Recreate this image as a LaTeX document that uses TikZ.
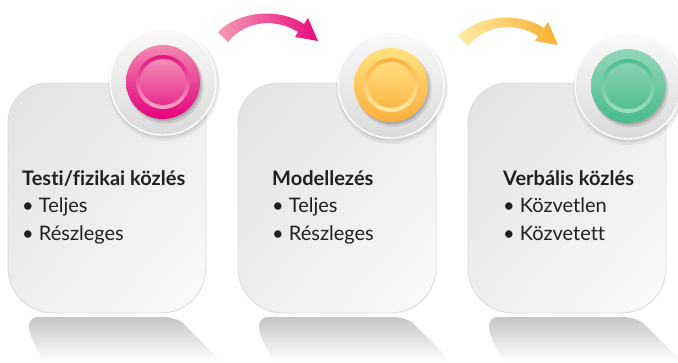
\documentclass[tikz,border=0pt]{standalone}
\usepackage{fontspec}
\setmainfont{Lato}[Ligatures={NoCommon}]
\usetikzlibrary{shadings}
\definecolor{txt}{HTML}{231F20}
\definecolor{boxA}{HTML}{E2E2E2}
\definecolor{boxM}{HTML}{EEEEEE}
\definecolor{boxB}{HTML}{FBFBFB}
\definecolor{boxE}{HTML}{DCDCDC}
\definecolor{plateA}{HTML}{FAFAFA}
\definecolor{plateB}{HTML}{DADADA}
\definecolor{reflA}{HTML}{C6C6C6}
\definecolor{reflM}{HTML}{EEEEEE}
% pink
\definecolor{pinkA}{HTML}{F287B0}
\definecolor{pinkB}{HTML}{E5007E}
\definecolor{pinkC}{HTML}{E3137F}
\definecolor{pinkD}{HTML}{F7A6C6}
\definecolor{pinkE}{HTML}{F38DB6}
\definecolor{pinkF}{HTML}{E92C8C}
% gold
\definecolor{goldA}{HTML}{FFE27F}
\definecolor{goldB}{HTML}{FBAF3C}
\definecolor{goldC}{HTML}{FBB040}
\definecolor{goldD}{HTML}{FFEBA6}
\definecolor{goldE}{HTML}{FFDD7C}
\definecolor{goldF}{HTML}{FDB848}
% green
\definecolor{grnA}{HTML}{93D6B9}
\definecolor{grnB}{HTML}{48BB8C}
\definecolor{grnC}{HTML}{4DBD8F}
\definecolor{grnD}{HTML}{A2DDC3}
\definecolor{grnE}{HTML}{88D1B2}
\definecolor{grnF}{HTML}{52BF92}
% arrows
\definecolor{arrAtail}{HTML}{F49AB2}
\definecolor{arrAhead}{HTML}{EA0A80}
\definecolor{arrBtail}{HTML}{FEEBA3}
\definecolor{arrBhead}{HTML}{F9AE32}

\newcommand\cardshape[1]{% #1 = x shift
 \begin{scope}[xshift=#1]
  \shade[top color=reflA, middle color=reflM, bottom color=white]
    (38,317) -- (165,317) .. controls (175,318) and (182,321) .. (186,326)
    -- (222,362) -- (44,362) .. controls (36,348) and (28,333) .. (29,325)
    .. controls (30,320) and (33,317) .. (38,317) -- cycle;
  \shade[upper left=boxA, upper right=boxM, lower left=boxM, lower right=boxB, draw=boxE, line width=0.9pt]
    (8,123) arc[start angle=180, end angle=270, radius=40] -- (206,83) -- (206,268)
    arc[start angle=0, end angle=90, radius=45] -- (53,313)
    arc[start angle=90, end angle=180, radius=45] -- cycle;
 \end{scope}}

\newcommand\carddisc[3]{% #1 cx, #2 cy, #3 colour prefix
  \fill[black,opacity=.05] (#1+1,#2+3) circle[radius=56];
  \fill[black,opacity=.06] (#1+1,#2+2) circle[radius=54.5];
  \shade[top color=plateA, bottom color=plateB] (#1,#2) circle[radius=53];
  \draw[white, line width=1.3pt] (#1,#2) circle[radius=53];
  \fill[black,opacity=.10] (#1+2.5,#2+3.5) circle[radius=38];
  \fill[black,opacity=.14] (#1+1.5,#2+2) circle[radius=37];
  \shade[top color=#3A, bottom color=#3B] (#1,#2) circle[radius=37];
  \shade[top color=#3C, bottom color=#3D] (#1,#2) circle[radius=27];
  \shade[top color=#3E, bottom color=#3F] (#1,#2) circle[radius=23];
}

\tikzset{
  head/.style={anchor=base west, inner sep=0pt, text=txt, font=\fontsize{20}{23}\selectfont\bfseries},
  item/.style={anchor=base west, inner sep=0pt, text=txt, font=\fontsize{20}{23}\selectfont},
}

\begin{document}
\begin{tikzpicture}[x=1pt, y=-1pt]
\useasboundingbox (0,0) rectangle (678,362);

% cards
\cardshape{0pt}
\cardshape{230pt}
\cardshape{460pt}

% discs
\carddisc{163}{82}{pink}
\carddisc{391}{85}{gold}
\carddisc{628}{86}{grn}

% arrows
\shade[left color=arrAtail, right color=arrAhead]
  (218,32) .. controls (240,10) and (280,8) .. (304,24) -- (308,18) -- (318,41)
  -- (295,37) -- (298,32) .. controls (276,18) and (246,20) .. (228,42) -- cycle;
\begin{scope}[xshift=240pt, yshift=-4pt]
\shade[left color=arrBtail, right color=arrBhead]
  (218,32) .. controls (240,10) and (280,8) .. (304,24) -- (308,18) -- (318,41)
  -- (295,37) -- (298,32) .. controls (276,18) and (246,20) .. (228,42) -- cycle;
\end{scope}

% texts
\node[head] (h1) at (22,185) {Testi/fizikai közlés};
\node[item] (a1) at (22,212) {\textbullet\ Teljes};
\node[item] (b1) at (22,240) {\textbullet\ Részleges};

\node[head] (h2) at (272,185) {Modellezés};
\node[item] (a2) at (272,212) {\textbullet\ Teljes};
\node[item] (b2) at (272,240) {\textbullet\ Részleges};

\node[head] (h3) at (503,185) {Verbális közlés};
\node[item] (a3) at (503,212) {\textbullet\ Közvetlen};
\node[item] (b3) at (503,240) {\textbullet\ Közvetett};
\end{tikzpicture}
\end{document}
